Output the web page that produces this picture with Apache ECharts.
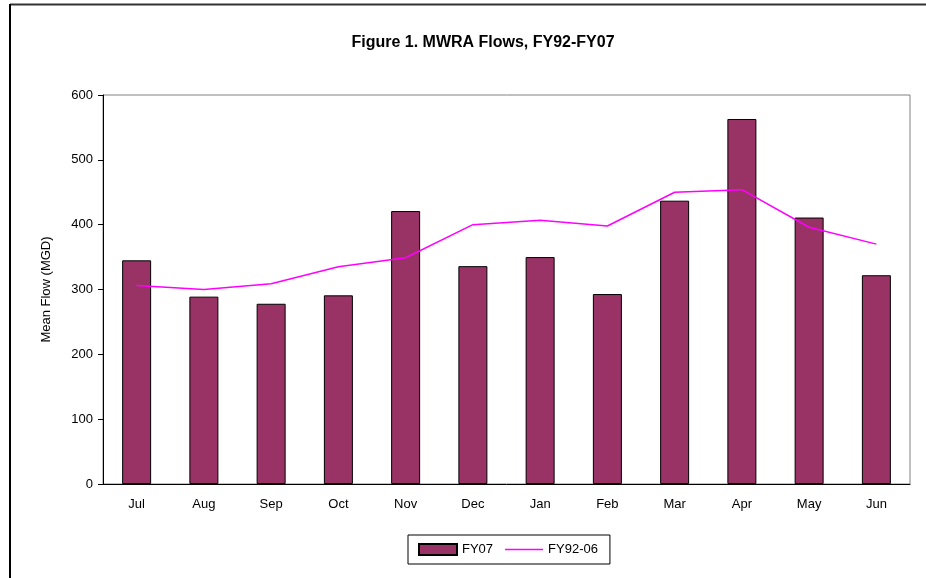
<!DOCTYPE html>
<html>
<head>
<meta charset="utf-8">
<script src="https://cdn.jsdelivr.net/npm/echarts@6/dist/echarts.min.js"></script>
<style>html,body{margin:0;padding:0;background:#fff;}#c{width:926px;height:578px;}</style>
</head>
<body>
<div id="c"></div>
<script>
const months = ['Jul','Aug','Sep','Oct','Nov','Dec','Jan','Feb','Mar','Apr','May','Jun'];
const fy07 = [345, 289, 278, 291, 421, 336, 350, 293, 437, 563, 411, 322];
const fy92_06 = [306, 300, 309, 335, 349, 400, 407, 398, 450, 454, 396, 370];
const yTicks = [0, 100, 200, 300, 400, 500, 600];

const chart = echarts.init(document.getElementById('c'));
chart.setOption({
  backgroundColor: '#fff',
  animation: false,
  title: {
    text: 'Figure 1. MWRA Flows, FY92-FY07',
    left: 478, top: 30, textAlign: 'center',
    textStyle: {fontFamily: 'Liberation Sans, Arial', fontSize: 16, fontWeight: 'bold', color: '#000'}
  },
  graphic: [
    {type: 'line', shape: {x1: 10, y1: 4.5, x2: 926, y2: 4.5}, style: {stroke: '#333', lineWidth: 2}},
    {type: 'line', shape: {x1: 10, y1: 4, x2: 10, y2: 578}, style: {stroke: '#000', lineWidth: 2}}
  ],
  legend: {
    left: 408, top: 535, width: 201,
    padding: [8, 12, 8, 10],
    itemGap: 12,
    borderColor: '#000', borderWidth: 1,
    itemWidth: 38, itemHeight: 11,
    textStyle: {fontFamily: 'Liberation Sans, Arial', fontSize: 13, color: '#000'},
    data: [
      {name: 'FY07', icon: 'rect'},
      {name: 'FY92-06', icon: 'path://M0,0 L0,0 M0,4.75 L38,4.75 L38,6.25 L0,6.25 Z M0,11 L0,11',
       itemStyle: {color: '#FF00FF', borderWidth: 0}}
    ]
  },
  grid: {left: 103, right: 16, top: 95, bottom: 94, show: true, borderColor: '#808080', borderWidth: 1},
  xAxis: {
    type: 'category', data: months,
    axisLine: {lineStyle: {color: '#000'}},
    axisTick: {length: 5, lineStyle: {color: '#000'}},
    axisLabel: {fontFamily: 'Liberation Sans, Arial', fontSize: 13, color: '#000', margin: 14}
  },
  yAxis: {
    type: 'value', min: yTicks[0], max: yTicks[yTicks.length - 1], interval: 100,
    name: 'Mean Flow (MGD)', nameLocation: 'middle', nameGap: 50,
    nameTextStyle: {fontFamily: 'Liberation Sans, Arial', fontSize: 13, color: '#000'},
    axisLine: {show: true, lineStyle: {color: '#000'}},
    axisTick: {show: true, length: 5, lineStyle: {color: '#000'}},
    axisLabel: {fontFamily: 'Liberation Sans, Arial', fontSize: 13, color: '#000', margin: 10},
    splitLine: {show: false}
  },
  series: [
    {name: 'FY07', type: 'bar', data: fy07, barWidth: 29,
     itemStyle: {color: '#993366', borderColor: '#000', borderWidth: 1}},
    {name: 'FY92-06', type: 'line', data: fy92_06, symbol: 'none',
     lineStyle: {color: '#FF00FF', width: 1.5}, itemStyle: {color: '#FF00FF'}}
  ]
});
</script>
</body>
</html>
